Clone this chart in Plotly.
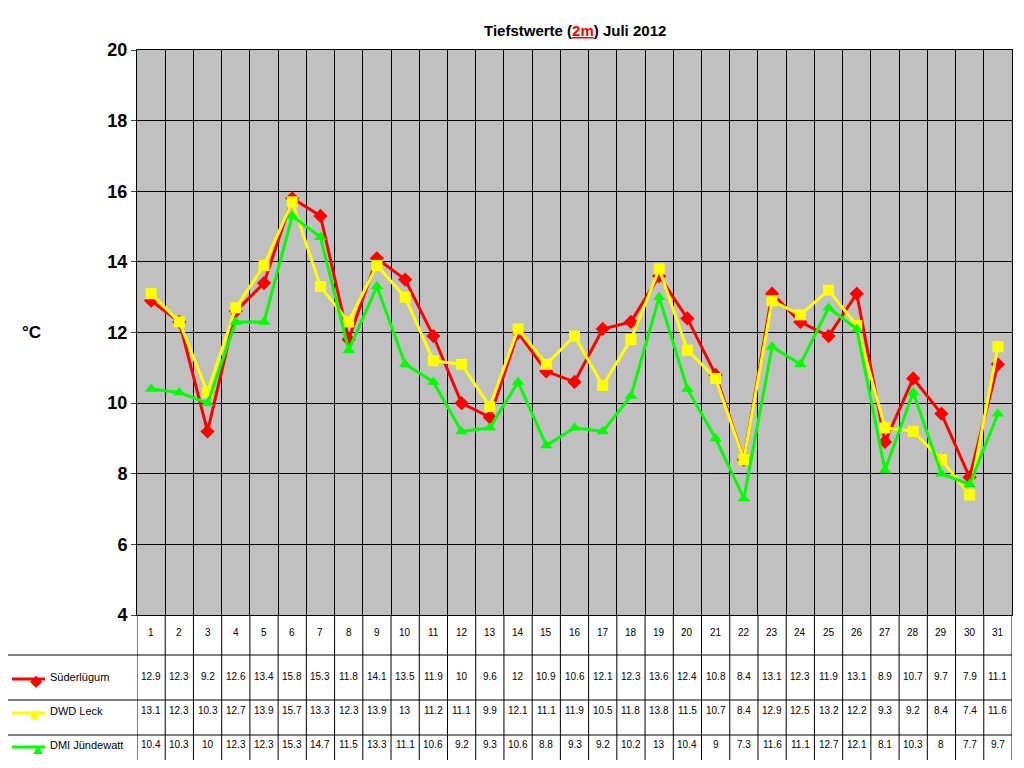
import plotly.graph_objects as go

days = list(range(1, 32))
sued = [12.9,12.3,9.2,12.6,13.4,15.8,15.3,11.8,14.1,13.5,11.9,10,9.6,12,10.9,10.6,12.1,12.3,13.6,12.4,10.8,8.4,13.1,12.3,11.9,13.1,8.9,10.7,9.7,7.9,11.1]
leck = [13.1,12.3,10.3,12.7,13.9,15.7,13.3,12.3,13.9,13,11.2,11.1,9.9,12.1,11.1,11.9,10.5,11.8,13.8,11.5,10.7,8.4,12.9,12.5,13.2,12.2,9.3,9.2,8.4,7.4,11.6]
dmi = [10.4,10.3,10,12.3,12.3,15.3,14.7,11.5,13.3,11.1,10.6,9.2,9.3,10.6,8.8,9.3,9.2,10.2,13,10.4,9,7.3,11.6,11.1,12.7,12.1,8.1,10.3,8,7.7,9.7]
names = ["Süderlügum", "DWD Leck", "DMI Jündewatt"]
colors = ["#FF0000", "#FFFF00", "#00FF00"]
symbols = ["diamond", "square", "triangle-up"]
glyphs = ["◆", "■", "▲"]
series = [sued, leck, dmi]

OFF = 8  # page body margin
W, H = 1024 - 2 * OFF, 768 - 2 * OFF
L, R, T, B = 137 - OFF, 4 - OFF + 8, 50 - OFF, 153 - OFF
pw, ph = W - L - R, H - T - B
def px(x): return (x - OFF - L) / pw
def py(y): return (H - B - (y - OFF)) / ph

fig = go.Figure()
for n, c, s, v in zip(names, colors, symbols, series):
    fig.add_trace(go.Scatter(x=days, y=v, mode="lines+markers", name=n,
                             line=dict(color=c, width=3), marker=dict(symbol=s, size=11, color=c),
                             cliponaxis=False))

shapes, ann = [], []
for yy in [655, 700, 735, 767]:
    shapes.append(dict(type="line", xref="paper", yref="paper", x0=px(5), x1=1, y0=py(yy), y1=py(yy), line=dict(color="black", width=1)))
shapes.append(dict(type="line", xref="paper", yref="paper", x0=px(5), x1=px(5), y0=py(655), y1=py(767), line=dict(color="black", width=1)))
for k in range(32):
    shapes.append(dict(type="line", xref="x", yref="paper", x0=k + 0.5, x1=k + 0.5, y0=py(767), y1=0, line=dict(color="black", width=1)))
for d in days:
    ann.append(dict(x=d, y=py(640), xref="x", yref="paper", text=str(d), showarrow=False, font=dict(size=10, color="black")))
rows = [684, 718, 752]
for i, (n, c, g, v) in enumerate(zip(names, colors, glyphs, series)):
    yy = rows[i]
    shapes.append(dict(type="line", xref="paper", yref="paper", x0=px(12), x1=px(45), y0=py(yy - 5), y1=py(yy - 5), line=dict(color=c, width=3)))
    ann.append(dict(x=px(28), y=py(yy - 4), xref="paper", yref="paper", text=g, showarrow=False, yanchor="middle", font=dict(size=16, color=c)))
    ann.append(dict(x=px(48), y=py(yy + 1), xref="paper", yref="paper", text=n, xanchor="left", showarrow=False, font=dict(size=11, color="black")))
    for d, val in zip(days, v):
        ann.append(dict(x=d, y=py(yy), xref="x", yref="paper", text=f"{val:g}", showarrow=False, font=dict(size=10, color="black")))
ann.append(dict(x=px(20), y=py(332), xref="paper", yref="paper", text="<b>°C</b>", showarrow=False, font=dict(size=17, color="black")))
ann.append(dict(x=0.5, y=py(20), xref="paper", yref="paper", showarrow=False, font=dict(size=15, color="black"),
                text="<b>Tiefstwerte (<span style='color:red;text-decoration:underline'>2m</span>) Juli 2012</b>"))

fig.update_layout(
    width=W, height=H, margin=dict(l=L, r=R, t=T, b=B),
    paper_bgcolor="white", plot_bgcolor="#C0C0C0", showlegend=False,
    font=dict(family="Liberation Sans, Arial", color="black"),
    shapes=shapes, annotations=ann,
    xaxis=dict(range=[0.5, 31.5], tickvals=[k + 0.5 for k in range(32)], showticklabels=False,
               showgrid=True, gridcolor="black", gridwidth=1, zeroline=False, showline=True, linecolor="black", mirror=True, ticks=""),
    yaxis=dict(range=[4, 20], dtick=2, showgrid=True, gridcolor="black", gridwidth=1, zeroline=False,
               showline=True, linecolor="black", mirror=True, ticks="outside", ticklen=5,
               tickfont=dict(size=18, family="Liberation Sans, Arial"), tickprefix="<b>", ticksuffix="</b>"),
)
fig.write_html("out.html")
